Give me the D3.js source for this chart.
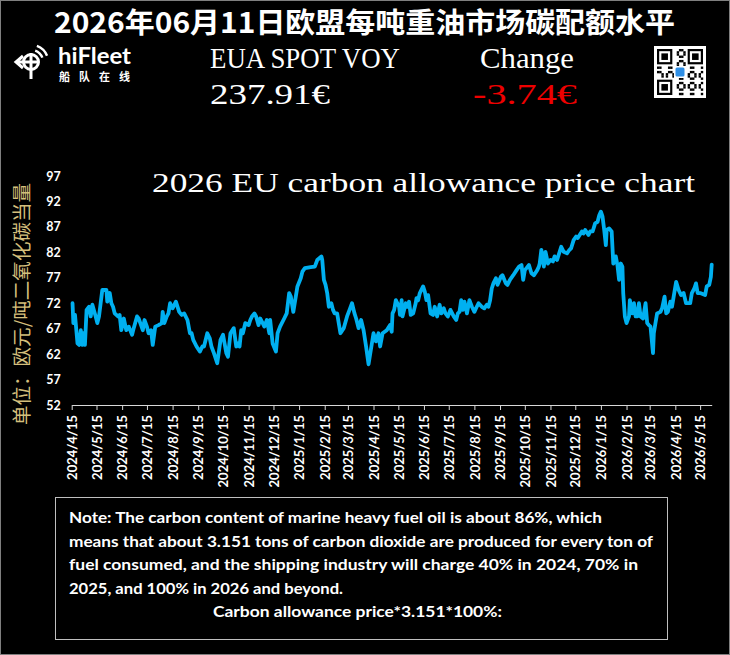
<!DOCTYPE html>
<html>
<head>
<meta charset="utf-8">
<script src="https://cdnjs.cloudflare.com/ajax/libs/d3/7.8.5/d3.min.js"></script>
<style>
  html, body { margin: 0; padding: 0; background: #000; }
  svg { display: block; }
</style>
</head>
<body>
<div id="chart"></div>
<script>
// Data: EUA spot price, EUR per tonne CO2
const series2024 = [
  ['2024-04-16', 72.0], ['2024-04-17', 68.1], ['2024-04-19', 69.7], ['2024-04-22', 64.1], ['2024-04-24', 63.8],
  ['2024-04-26', 66.7], ['2024-04-28', 63.8], ['2024-04-29', 66.1], ['2024-05-01', 63.8], ['2024-05-03', 70.7],
  ['2024-05-06', 71.3], ['2024-05-08', 69.4], ['2024-05-10', 71.7], ['2024-05-14', 69.4], ['2024-05-16', 68.1],
  ['2024-05-18', 69.4], ['2024-05-20', 72.0], ['2024-05-22', 74.6], ['2024-05-27', 74.6], ['2024-05-28', 72.3],
  ['2024-05-31', 74.0], ['2024-06-02', 72.0], ['2024-06-04', 71.3], ['2024-06-06', 70.0], ['2024-06-10', 69.4],
  ['2024-06-12', 69.7], ['2024-06-14', 66.7], ['2024-06-17', 69.0], ['2024-06-20', 66.7], ['2024-06-23', 67.4],
  ['2024-06-27', 65.8], ['2024-06-29', 67.1], ['2024-07-03', 69.4], ['2024-07-05', 69.0], ['2024-07-07', 68.1],
  ['2024-07-10', 66.7], ['2024-07-12', 68.7], ['2024-07-15', 67.4], ['2024-07-17', 66.1], ['2024-07-20', 66.7],
  ['2024-07-22', 63.8], ['2024-07-25', 67.4], ['2024-07-29', 67.7], ['2024-08-02', 68.1], ['2024-08-03', 70.3],
  ['2024-08-05', 68.1], ['2024-08-08', 69.4], ['2024-08-10', 70.0], ['2024-08-12', 72.0], ['2024-08-15', 71.0],
  ['2024-08-19', 72.3], ['2024-08-23', 70.3], ['2024-08-26', 69.7], ['2024-08-29', 70.0], ['2024-09-02', 68.7],
  ['2024-09-05', 66.1], ['2024-09-07', 66.1], ['2024-09-09', 64.8], ['2024-09-13', 63.5], ['2024-09-17', 62.5],
  ['2024-09-20', 63.5], ['2024-09-22', 63.5], ['2024-09-26', 66.1], ['2024-09-29', 65.1], ['2024-10-01', 63.5],
  ['2024-10-04', 62.2], ['2024-10-08', 60.2], ['2024-10-12', 64.8], ['2024-10-15', 65.8], ['2024-10-19', 62.2],
  ['2024-10-21', 61.5], ['2024-10-24', 66.1], ['2024-10-28', 67.1], ['2024-10-31', 63.5], ['2024-11-02', 64.1],
  ['2024-11-04', 63.5], ['2024-11-06', 66.7], ['2024-11-08', 66.1], ['2024-11-11', 68.1], ['2024-11-15', 67.7],
  ['2024-11-17', 68.7], ['2024-11-19', 69.4], ['2024-11-22', 70.0], ['2024-11-24', 69.4], ['2024-11-27', 67.7],
  ['2024-11-29', 69.0], ['2024-12-01', 68.4], ['2024-12-04', 67.4], ['2024-12-07', 68.7], ['2024-12-10', 66.1],
  ['2024-12-11', 68.7], ['2024-12-14', 64.1], ['2024-12-18', 62.5], ['2024-12-20', 66.1], ['2024-12-23', 67.4],
  ['2024-12-28', 69.0], ['2024-12-31', 70.0]
];
const series2025 = [
  ['2025-01-03', 74.0], ['2025-01-05', 73.3], ['2025-01-08', 70.3], ['2025-01-11', 73.3], ['2025-01-13', 75.3],
  ['2025-01-17', 76.9], ['2025-01-19', 78.2], ['2025-01-22', 78.9], ['2025-01-29', 79.1], ['2025-02-03', 79.2],
  ['2025-02-06', 80.5], ['2025-02-11', 81.2], ['2025-02-12', 80.5], ['2025-02-14', 76.6], ['2025-02-16', 75.6],
  ['2025-02-18', 74.0], ['2025-02-20', 71.3], ['2025-02-23', 72.0], ['2025-02-25', 70.7], ['2025-02-27', 70.0],
  ['2025-03-02', 70.0], ['2025-03-06', 66.1], ['2025-03-10', 67.1], ['2025-03-14', 69.4], ['2025-03-17', 70.7],
  ['2025-03-20', 72.0], ['2025-03-23', 70.0], ['2025-03-25', 69.0], ['2025-03-28', 67.1], ['2025-03-31', 68.7],
  ['2025-04-03', 66.7], ['2025-04-06', 63.5], ['2025-04-09', 60.0], ['2025-04-15', 66.1], ['2025-04-18', 64.5],
  ['2025-04-21', 66.1], ['2025-04-23', 63.5], ['2025-04-26', 66.1], ['2025-05-01', 66.7], ['2025-05-05', 67.7],
  ['2025-05-07', 66.4], ['2025-05-08', 70.0], ['2025-05-10', 70.7], ['2025-05-12', 72.6], ['2025-05-16', 71.3],
  ['2025-05-17', 69.7], ['2025-05-19', 72.6], ['2025-05-20', 69.4], ['2025-05-24', 72.0], ['2025-05-26', 71.3],
  ['2025-05-28', 72.3], ['2025-05-30', 69.7], ['2025-06-02', 70.0], ['2025-06-05', 72.0], ['2025-06-06', 73.0],
  ['2025-06-08', 72.6], ['2025-06-10', 74.0], ['2025-06-14', 75.3], ['2025-06-16', 74.3], ['2025-06-18', 72.6],
  ['2025-06-20', 73.6], ['2025-06-23', 70.0], ['2025-06-26', 69.7], ['2025-06-28', 71.3], ['2025-07-01', 69.4],
  ['2025-07-04', 71.7], ['2025-07-06', 70.0], ['2025-07-09', 71.0], ['2025-07-11', 70.0], ['2025-07-14', 69.4],
  ['2025-07-17', 70.7], ['2025-07-21', 69.4], ['2025-07-24', 68.7], ['2025-07-26', 70.0], ['2025-07-28', 70.3],
  ['2025-07-30', 72.6], ['2025-08-01', 70.7], ['2025-08-03', 72.3], ['2025-08-06', 70.0], ['2025-08-09', 72.6],
  ['2025-08-12', 71.3], ['2025-08-15', 70.3], ['2025-08-17', 71.0], ['2025-08-20', 72.0], ['2025-08-24', 71.3],
  ['2025-08-27', 71.0], ['2025-08-30', 71.7], ['2025-09-01', 71.3], ['2025-09-03', 72.6], ['2025-09-05', 74.9],
  ['2025-09-07', 75.9], ['2025-09-10', 76.9], ['2025-09-12', 75.6], ['2025-09-16', 77.2], ['2025-09-18', 77.5],
  ['2025-09-22', 75.9], ['2025-09-24', 75.6], ['2025-09-27', 76.6], ['2025-10-01', 77.5], ['2025-10-05', 78.5],
  ['2025-10-08', 79.2], ['2025-10-11', 79.5], ['2025-10-13', 76.6], ['2025-10-15', 78.5], ['2025-10-17', 78.9],
  ['2025-10-20', 79.5], ['2025-10-23', 77.9], ['2025-10-26', 77.5], ['2025-10-30', 78.5], ['2025-11-01', 79.2],
  ['2025-11-02', 79.8], ['2025-11-04', 82.5], ['2025-11-06', 80.5], ['2025-11-07', 79.2], ['2025-11-09', 82.1],
  ['2025-11-12', 79.8], ['2025-11-15', 80.5], ['2025-11-18', 80.2], ['2025-11-20', 81.2], ['2025-11-23', 80.5],
  ['2025-11-28', 83.1], ['2025-12-01', 82.1], ['2025-12-05', 81.8], ['2025-12-08', 82.5], ['2025-12-10', 82.8],
  ['2025-12-13', 84.4], ['2025-12-16', 85.1], ['2025-12-18', 84.8], ['2025-12-23', 86.1], ['2025-12-25', 85.7],
  ['2025-12-27', 86.4], ['2025-12-31', 85.4]
];
const series2026 = [
  ['2026-01-02', 86.1], ['2026-01-05', 86.1], ['2026-01-08', 87.7], ['2026-01-11', 88.0], ['2026-01-13', 89.3],
  ['2026-01-15', 90.0], ['2026-01-17', 89.0], ['2026-01-19', 86.4], ['2026-01-21', 83.4], ['2026-01-22', 86.4],
  ['2026-01-25', 86.7], ['2026-01-28', 86.1], ['2026-01-30', 79.8], ['2026-02-02', 81.2], ['2026-02-04', 79.5],
  ['2026-02-06', 76.6], ['2026-02-08', 79.8], ['2026-02-10', 79.2], ['2026-02-11', 74.0], ['2026-02-13', 69.4],
  ['2026-02-15', 68.1], ['2026-02-18', 69.4], ['2026-02-19', 72.6], ['2026-02-22', 70.0], ['2026-02-24', 72.0],
  ['2026-02-26', 69.4], ['2026-02-28', 69.4], ['2026-03-02', 72.0], ['2026-03-04', 69.4], ['2026-03-07', 69.0],
  ['2026-03-10', 72.0], ['2026-03-12', 68.1], ['2026-03-14', 67.7], ['2026-03-16', 67.4], ['2026-03-19', 62.2],
  ['2026-03-20', 66.1], ['2026-03-22', 68.1], ['2026-03-24', 70.0], ['2026-03-28', 70.3], ['2026-03-30', 71.0],
  ['2026-04-02', 73.3], ['2026-04-04', 70.0], ['2026-04-06', 70.3], ['2026-04-09', 72.3], ['2026-04-11', 71.3],
  ['2026-04-13', 73.3], ['2026-04-16', 76.2], ['2026-04-19', 74.6], ['2026-04-22', 73.6], ['2026-04-25', 74.0],
  ['2026-04-28', 72.0], ['2026-05-03', 72.0], ['2026-05-05', 74.0], ['2026-05-08', 74.9], ['2026-05-10', 75.9],
  ['2026-05-12', 74.0], ['2026-05-15', 74.0], ['2026-05-21', 73.6], ['2026-05-23', 75.3], ['2026-05-26', 75.6],
  ['2026-05-28', 77.2], ['2026-05-29', 79.6]
];

const yTicks = [52, 57, 62, 67, 72, 77, 82, 87, 92, 97];
const xTickLabels = [
  '2024/4/15', '2024/5/15', '2024/6/15', '2024/7/15', '2024/8/15', '2024/9/15', '2024/10/15',
  '2024/11/15', '2024/12/15', '2025/1/15', '2025/2/15', '2025/3/15', '2025/4/15', '2025/5/15',
  '2025/6/15', '2025/7/15', '2025/8/15', '2025/9/15', '2025/10/15', '2025/11/15', '2025/12/15',
  '2026/1/15', '2026/2/15', '2026/3/15', '2026/4/15', '2026/5/15'
];

// Header figures
const spotLabel = 'EUA SPOT VOY';
const spotValue = '237.91€';
const changeLabel = 'Change';
const changeValue = '-3.74€';

const noteLines = [
  'Note: The carbon content of marine heavy fuel oil is about 86%, which',
  'means that about 3.151 tons of carbon dioxide are produced for every ton of',
  'fuel consumed, and the shipping industry will charge 40% in 2024, 70% in',
  '2025, and 100% in 2026 and beyond.'
];
const noteWidths = [533, 584, 569, 274];
const formulaLine = 'Carbon allowance price*3.151*100%:';

const W = 730, H = 655;
const BLUE = '#00b0f0';

const svg = d3.select('#chart').append('svg')
  .attr('width', W).attr('height', H);

svg.append('rect').attr('width', W).attr('height', H).attr('fill', '#000');

// Title
svg.append('text')
  .attr('x', 54).attr('y', 33)
  .attr('fill', '#fff')
  .attr('textLength', 621).attr('lengthAdjust', 'spacingAndGlyphs')
  .style('font-family', '"Noto Sans CJK SC", sans-serif')
  .style('font-weight', 'bold')
  .style('font-size', '28.5px')
  .text('2026年06月11日欧盟每吨重油市场碳配额水平');

// Logo
const logo = svg.append('g').attr('stroke', '#fff').attr('fill', 'none').attr('stroke-width', 3);
logo.append('circle').attr('cx', 31).attr('cy', 62).attr('r', 7.5);
logo.append('line').attr('x1', 31).attr('y1', 53).attr('x2', 31).attr('y2', 79);
logo.append('line').attr('x1', 18).attr('y1', 62).attr('x2', 39).attr('y2', 62);
logo.append('path').attr('d', 'M23,56 L16,62 L23,68');
[11, 16].forEach(r => {
  logo.append('path')
    .attr('transform', 'translate(31,62)')
    .attr('stroke', 'none').attr('fill', '#fff')
    .attr('d', d3.arc().innerRadius(r).outerRadius(r + 2.4).startAngle(0.35).endAngle(1.2)());
});
svg.append('text')
  .attr('x', 58).attr('y', 64)
  .attr('fill', '#fff')
  .attr('textLength', 73).attr('lengthAdjust', 'spacingAndGlyphs')
  .style('font-family', 'Lato, sans-serif')
  .style('font-weight', 'bold')
  .style('font-size', '23px')
  .text('hiFleet');
svg.append('text')
  .attr('x', 59).attr('y', 81)
  .attr('fill', '#fff')
  .attr('textLength', 71).attr('lengthAdjust', 'spacing')
  .style('font-family', '"Noto Sans CJK SC", sans-serif')
  .style('font-weight', 'bold')
  .style('font-size', '11px')
  .text('船队在线');

// Spot / change header
const serif = '"Liberation Serif", "DejaVu Serif", serif';
const header = [
  { t: spotLabel, x: 210, y: 68, w: 190, c: '#fff' },
  { t: changeLabel, x: 480, y: 68, w: 94, c: '#fff' },
  { t: spotValue, x: 210, y: 104, w: 120, c: '#fff' },
  { t: changeValue, x: 473, y: 104, w: 104, c: '#ee0000' }
];
svg.append('g').selectAll('text')
  .data(header).join('text')
  .attr('x', d => d.x).attr('y', d => d.y)
  .attr('fill', d => d.c)
  .attr('textLength', d => d.w).attr('lengthAdjust', 'spacingAndGlyphs')
  .style('font-family', serif)
  .style('font-size', '29px')
  .text(d => d.t);

// QR code (decorative)
const qr = svg.append('g').attr('transform', 'translate(654,46)');
qr.append('rect').attr('width', 52).attr('height', 52).attr('fill', '#fff');
const N = 21, cell = 46 / N;
const cells = [];
for (let i = 0; i < N; i++) {
  for (let j = 0; j < N; j++) {
    const inFinder = (i < 8 && j < 8) || (i < 8 && j >= N - 8) || (i >= N - 8 && j < 8);
    if (inFinder) continue;
    if (((i * 7 + j * 11 + i * j) % 5) < 2) cells.push([i, j]);
  }
}
qr.append('g').attr('transform', 'translate(3,3)').selectAll('rect')
  .data(cells).join('rect')
  .attr('x', d => d[1] * cell).attr('y', d => d[0] * cell)
  .attr('width', cell + 0.2).attr('height', cell + 0.2).attr('fill', '#000');
[[0, 0], [0, N - 7], [N - 7, 0]].forEach(([i, j]) => {
  const g = qr.append('g').attr('transform', `translate(${3 + j * cell},${3 + i * cell})`);
  g.append('rect').attr('width', 7 * cell).attr('height', 7 * cell).attr('fill', '#000');
  g.append('rect').attr('x', cell).attr('y', cell).attr('width', 5 * cell).attr('height', 5 * cell).attr('fill', '#fff');
  g.append('rect').attr('x', 2 * cell).attr('y', 2 * cell).attr('width', 3 * cell).attr('height', 3 * cell).attr('fill', '#000');
});
qr.append('rect').attr('x', 20).attr('y', 20).attr('width', 12).attr('height', 12).attr('fill', '#fff');
qr.append('rect').attr('x', 21.5).attr('y', 21.5).attr('width', 9).attr('height', 9).attr('rx', 1.5).attr('fill', '#2f8fe6');

// Chart subtitle
svg.append('text')
  .attr('x', 152).attr('y', 192)
  .attr('fill', '#fff')
  .attr('textLength', 543).attr('lengthAdjust', 'spacingAndGlyphs')
  .style('font-family', serif)
  .style('font-size', '28px')
  .text('2026 EU carbon allowance price chart');

// Scales
const parseDay = d3.timeParse('%Y-%m-%d');
const parseTick = d3.timeParse('%Y/%m/%d');
const data = [...series2024, ...series2025, ...series2026].map(([d, v]) => ({ date: parseDay(d), value: v }));
const tickDates = xTickLabels.map(parseTick);

const x = d3.scaleTime()
  .domain([tickDates[0], d3.max(data, d => d.date)])
  .range([71.7, 711.7]);
const y = d3.scaleLinear()
  .domain([d3.min(yTicks), d3.max(yTicks)])
  .range([405, 176]);

// Y axis
const yAxis = svg.append('g')
  .attr('transform', 'translate(71.7,0)')
  .call(d3.axisLeft(y).tickValues(yTicks).tickSize(0).tickPadding(11));
yAxis.select('.domain').remove();
yAxis.selectAll('text')
  .attr('fill', '#fff')
  .style('font-family', 'Lato, sans-serif')
  .style('font-weight', 'bold')
  .style('font-size', '12.5px');

svg.append('text')
  .attr('transform', 'translate(29,304) rotate(-90)')
  .attr('text-anchor', 'middle')
  .attr('fill', '#d4bf7c')
  .attr('textLength', 242).attr('lengthAdjust', 'spacingAndGlyphs')
  .style('font-family', '"Noto Sans CJK SC", sans-serif')
  .style('font-size', '19px')
  .text('单位：欧元/吨二氧化碳当量');

// X axis
const xAxis = svg.append('g')
  .attr('transform', 'translate(0,405)')
  .call(d3.axisBottom(x)
    .tickValues(tickDates)
    .tickFormat(d3.timeFormat('%Y/%-m/%-d'))
    .tickSize(5).tickSizeOuter(0));
xAxis.select('.domain').attr('stroke', '#d9d9d9');
xAxis.selectAll('.tick line').attr('stroke', '#d9d9d9');
xAxis.selectAll('text')
  .attr('transform', 'rotate(-90)')
  .attr('text-anchor', 'end')
  .attr('x', -10).attr('y', 0).attr('dy', '0.36em')
  .attr('fill', '#fff')
  .style('font-family', 'Lato, sans-serif')
  .style('font-weight', 'bold')
  .style('font-size', '13px');

// Line
svg.append('path')
  .datum(data)
  .attr('fill', 'none')
  .attr('stroke', BLUE)
  .attr('stroke-width', 3.8)
  .attr('stroke-linejoin', 'round')
  .attr('stroke-linecap', 'round')
  .attr('d', d3.line().x(d => x(d.date)).y(d => y(d.value)));

// Note box
svg.append('rect')
  .attr('x', 55.5).attr('y', 497.5)
  .attr('width', 612).attr('height', 142)
  .attr('fill', 'none').attr('stroke', '#bfbfbf').attr('stroke-width', 1);
const note = svg.append('g')
  .attr('fill', '#fff')
  .style('font-family', 'Lato, sans-serif')
  .style('font-weight', 'bold')
  .style('font-size', '16px');
note.selectAll('text.line')
  .data(noteLines).join('text')
  .attr('class', 'line')
  .attr('x', 69).attr('y', (d, i) => 523 + i * 23.5)
  .attr('textLength', (d, i) => noteWidths[i])
  .attr('lengthAdjust', 'spacingAndGlyphs')
  .text(d => d);
note.append('text')
  .attr('x', 213).attr('y', 617)
  .attr('textLength', 289).attr('lengthAdjust', 'spacingAndGlyphs')
  .text(formulaLine);

// Frame
svg.append('rect')
  .attr('x', 0.5).attr('y', 0.5).attr('width', W - 1).attr('height', H - 1)
  .attr('fill', 'none').attr('stroke', '#7f7f7f');
</script>
</body>
</html>
